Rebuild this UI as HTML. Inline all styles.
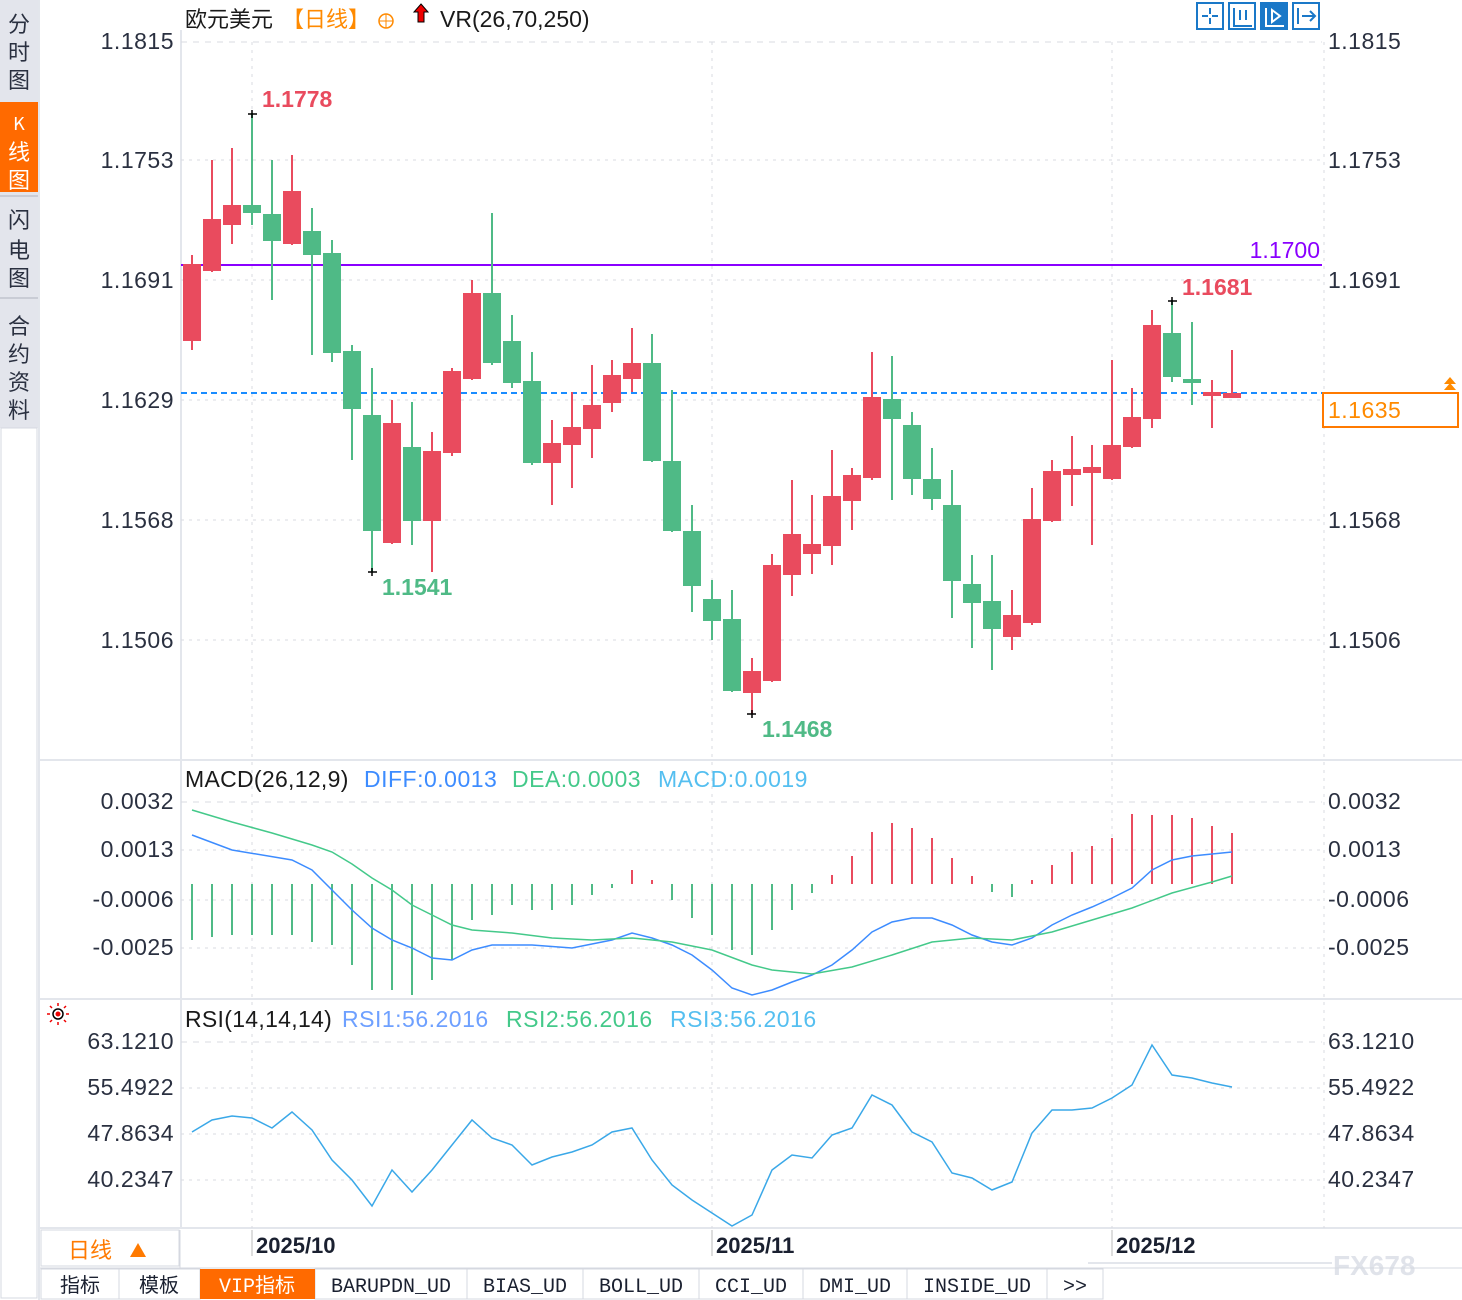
<!DOCTYPE html>
<html><head><meta charset="utf-8"><style>
html,body{margin:0;padding:0;background:#fff;width:1462px;height:1300px;overflow:hidden}
svg{display:block;font-family:"Liberation Sans","Noto Sans CJK SC",sans-serif}
</style></head><body>
<svg width="1462" height="1300" xmlns="http://www.w3.org/2000/svg">
<!-- sidebar -->
<rect x="0" y="0" width="38" height="428" fill="#e3e5ec"/>
<rect x="0" y="102" width="38" height="90" fill="#ff6a00"/>
<line x1="0" y1="196" x2="38" y2="196" stroke="#c9ccd5" stroke-width="2"/>
<line x1="0" y1="298" x2="38" y2="298" stroke="#c9ccd5" stroke-width="2"/>
<rect x="1" y="428" width="36" height="870" fill="#fff" stroke="#d5d8e0"/>
<g font-family="Noto Sans CJK SC,sans-serif" font-size="22" fill="#2a3040" text-anchor="middle">
<text x="19" y="32">分</text><text x="19" y="60">时</text><text x="19" y="88">图</text>
<text x="19" y="130" fill="#fff" font-size="18">K</text><text x="19" y="160" fill="#fff">线</text><text x="19" y="188" fill="#fff">图</text>
<text x="19" y="228">闪</text><text x="19" y="258">电</text><text x="19" y="286">图</text>
<text x="19" y="334">合</text><text x="19" y="362">约</text><text x="19" y="390">资</text><text x="19" y="418">料</text>
</g>
<!-- frame lines -->
<line x1="181" y1="30" x2="181" y2="1228" stroke="#e3e6ec" stroke-width="2"/>
<line x1="40" y1="760" x2="1462" y2="760" stroke="#e3e6ec" stroke-width="2"/>
<line x1="40" y1="999" x2="1462" y2="999" stroke="#e3e6ec" stroke-width="2"/>
<line x1="40" y1="1228" x2="1462" y2="1228" stroke="#e3e6ec" stroke-width="2"/>
<line x1="39" y1="0" x2="39" y2="1300" stroke="#e3e6ec" stroke-width="2"/>
<!-- grid -->
<g stroke="#d8dbe2" stroke-dasharray="3,5" stroke-width="1">
<line x1="181" y1="42" x2="1322" y2="42" stroke-dasharray="6,6"/>
<line x1="181" y1="160" x2="1322" y2="160"/><line x1="181" y1="280" x2="1322" y2="280"/>
<line x1="181" y1="400" x2="1322" y2="400"/><line x1="181" y1="520" x2="1322" y2="520"/>
<line x1="181" y1="640" x2="1322" y2="640"/>
<line x1="181" y1="802" x2="1322" y2="802" stroke-dasharray="6,6"/><line x1="181" y1="850" x2="1322" y2="850"/>
<line x1="181" y1="900" x2="1322" y2="900"/><line x1="181" y1="948" x2="1322" y2="948"/>
<line x1="181" y1="1042" x2="1322" y2="1042" stroke-dasharray="6,6"/><line x1="181" y1="1088" x2="1322" y2="1088"/>
<line x1="181" y1="1134" x2="1322" y2="1134"/><line x1="181" y1="1180" x2="1322" y2="1180"/>
<line x1="252" y1="42" x2="252" y2="1228"/><line x1="712" y1="42" x2="712" y2="1228"/><line x1="1112" y1="42" x2="1112" y2="1228"/>
<line x1="1324" y1="42" x2="1324" y2="1228"/>
</g>
<!-- axis labels -->
<g font-size="23" fill="#2a3040" letter-spacing="0.5">
<g text-anchor="end">
<text x="174" y="49">1.1815</text><text x="174" y="168">1.1753</text><text x="174" y="288">1.1691</text>
<text x="174" y="408">1.1629</text><text x="174" y="528">1.1568</text><text x="174" y="648">1.1506</text>
<text x="174" y="809">0.0032</text><text x="174" y="857">0.0013</text><text x="174" y="907">-0.0006</text><text x="174" y="955">-0.0025</text>
<text x="174" y="1049">63.1210</text><text x="174" y="1095">55.4922</text><text x="174" y="1141">47.8634</text><text x="174" y="1187">40.2347</text>
</g>
<text x="1328" y="49">1.1815</text><text x="1328" y="168">1.1753</text><text x="1328" y="288">1.1691</text>
<text x="1328" y="528">1.1568</text><text x="1328" y="648">1.1506</text>
<text x="1328" y="809">0.0032</text><text x="1328" y="857">0.0013</text><text x="1328" y="907">-0.0006</text><text x="1328" y="955">-0.0025</text>
<text x="1328" y="1049">63.1210</text><text x="1328" y="1095">55.4922</text><text x="1328" y="1141">47.8634</text><text x="1328" y="1187">40.2347</text>
</g>
<!-- title -->
<text x="185" y="27" font-size="22" fill="#1a1a1a" font-family="Noto Sans CJK SC,sans-serif">欧元美元</text>
<text x="282" y="27" font-size="22" fill="#ff8a00" font-family="Noto Sans CJK SC,sans-serif">【日线】</text>
<circle cx="386" cy="21" r="7" fill="none" stroke="#ff8a00" stroke-width="1.5"/><line x1="379" y1="21" x2="393" y2="21" stroke="#ff8a00"/><line x1="386" y1="14" x2="386" y2="28" stroke="#ff8a00"/>
<path d="M421 4 L428 12 L424 12 L424 22 L418 22 L418 12 L414 12 Z" fill="#e00" stroke="#000" stroke-width="1"/>
<text x="440" y="27" font-size="23" fill="#1a1a1a">VR(26,70,250)</text>
<!-- toolbar icons -->
<g fill="none" stroke="#1a78c8" stroke-width="2">
<rect x="1197" y="3" width="26" height="26"/><rect x="1229" y="3" width="26" height="26"/>
<rect x="1261" y="3" width="26" height="26" fill="#1a78c8"/><rect x="1293" y="3" width="26" height="26"/>
<path d="M1210 8v6M1210 18v6M1202 16h6M1212 16h6"/>
<path d="M1234 8v18h18M1240 10v10M1246 10v10"/>
<path d="M1266 8v18h18M1272 10l8 6-8 6z" stroke="#fff"/>
<path d="M1298 8v16M1302 16h12M1310 11l5 5-5 5"/>
</g>
<!-- 1.1700 line -->
<line x1="181" y1="265" x2="1322" y2="265" stroke="#8a00ff" stroke-width="2"/>
<text x="1320" y="258" font-size="23" fill="#8a00ff" text-anchor="end">1.1700</text>
<!-- current price -->
<line x1="181" y1="393" x2="1322" y2="393" stroke="#1a8cff" stroke-width="2" stroke-dasharray="6,4"/>
<rect x="1323" y="393" width="135" height="34" fill="#fff" stroke="#ff7a00" stroke-width="2"/>
<text x="1328" y="418" font-size="23" fill="#ff8a00" letter-spacing="0.5">1.1635</text>
<path d="M1450 377 l6 7h-12z M1450 383 l6 7h-12z" fill="#ff8a00"/>
<!-- candles -->
<g stroke-width="2">
<g stroke="#e94b5e" fill="#e94b5e">
<line x1="192" y1="255" x2="192" y2="350"/><rect x="184" y="265" width="16" height="75"/>
<line x1="212" y1="160" x2="212" y2="272"/><rect x="204" y="220" width="16" height="50"/>
<line x1="232" y1="148" x2="232" y2="244"/><rect x="224" y="206" width="16" height="18"/>
<line x1="292" y1="155" x2="292" y2="245"/><rect x="284" y="192" width="16" height="51"/>
<line x1="392" y1="400" x2="392" y2="544"/><rect x="384" y="424" width="16" height="118"/>
<line x1="432" y1="432" x2="432" y2="572"/><rect x="424" y="452" width="16" height="68"/>
<line x1="452" y1="368" x2="452" y2="456"/><rect x="444" y="372" width="16" height="80"/>
<line x1="472" y1="280" x2="472" y2="380"/><rect x="464" y="294" width="16" height="84"/>
<line x1="552" y1="420" x2="552" y2="505"/><rect x="544" y="444" width="16" height="18"/>
<line x1="572" y1="392" x2="572" y2="488"/><rect x="564" y="428" width="16" height="16"/>
<line x1="592" y1="365" x2="592" y2="458"/><rect x="584" y="406" width="16" height="22"/>
<line x1="612" y1="360" x2="612" y2="412"/><rect x="604" y="376" width="16" height="26"/>
<line x1="632" y1="328" x2="632" y2="392"/><rect x="624" y="364" width="16" height="14"/>
<line x1="752" y1="658" x2="752" y2="714"/><rect x="744" y="672" width="16" height="20"/>
<line x1="772" y1="554" x2="772" y2="682"/><rect x="764" y="566" width="16" height="114"/>
<line x1="792" y1="480" x2="792" y2="596"/><rect x="784" y="535" width="16" height="39"/>
<line x1="812" y1="495" x2="812" y2="574"/><rect x="804" y="545" width="16" height="8"/>
<line x1="832" y1="450" x2="832" y2="565"/><rect x="824" y="497" width="16" height="48"/>
<line x1="852" y1="468" x2="852" y2="530"/><rect x="844" y="476" width="16" height="24"/>
<line x1="872" y1="352" x2="872" y2="480"/><rect x="864" y="398" width="16" height="79"/>
<line x1="1012" y1="590" x2="1012" y2="650"/><rect x="1004" y="616" width="16" height="20"/>
<line x1="1032" y1="488" x2="1032" y2="625"/><rect x="1024" y="520" width="16" height="102"/>
<line x1="1052" y1="460" x2="1052" y2="522"/><rect x="1044" y="472" width="16" height="48"/>
<line x1="1072" y1="436" x2="1072" y2="506"/><rect x="1064" y="470" width="16" height="4"/>
<line x1="1092" y1="445" x2="1092" y2="545"/><rect x="1084" y="468" width="16" height="4"/>
<line x1="1112" y1="360" x2="1112" y2="480"/><rect x="1104" y="446" width="16" height="32"/>
<line x1="1132" y1="388" x2="1132" y2="448"/><rect x="1124" y="418" width="16" height="28"/>
<line x1="1152" y1="310" x2="1152" y2="428"/><rect x="1144" y="326" width="16" height="92"/>
<line x1="1212" y1="380" x2="1212" y2="428"/><rect x="1204" y="393" width="16" height="2"/>
<line x1="1232" y1="350" x2="1232" y2="398"/><rect x="1224" y="394" width="16" height="3"/>
</g>
<g stroke="#4fba86" fill="#4fba86">
<line x1="252" y1="113" x2="252" y2="225"/><rect x="244" y="206" width="16" height="6"/>
<line x1="272" y1="160" x2="272" y2="300"/><rect x="264" y="215" width="16" height="25"/>
<line x1="312" y1="208" x2="312" y2="355"/><rect x="304" y="232" width="16" height="22"/>
<line x1="332" y1="240" x2="332" y2="362"/><rect x="324" y="254" width="16" height="98"/>
<line x1="352" y1="345" x2="352" y2="460"/><rect x="344" y="352" width="16" height="56"/>
<line x1="372" y1="368" x2="372" y2="572"/><rect x="364" y="416" width="16" height="114"/>
<line x1="412" y1="402" x2="412" y2="545"/><rect x="404" y="448" width="16" height="72"/>
<line x1="492" y1="213" x2="492" y2="365"/><rect x="484" y="294" width="16" height="68"/>
<line x1="512" y1="315" x2="512" y2="388"/><rect x="504" y="342" width="16" height="40"/>
<line x1="532" y1="352" x2="532" y2="465"/><rect x="524" y="382" width="16" height="80"/>
<line x1="652" y1="334" x2="652" y2="462"/><rect x="644" y="364" width="16" height="96"/>
<line x1="672" y1="390" x2="672" y2="532"/><rect x="664" y="462" width="16" height="68"/>
<line x1="692" y1="505" x2="692" y2="612"/><rect x="684" y="532" width="16" height="53"/>
<line x1="712" y1="580" x2="712" y2="640"/><rect x="704" y="600" width="16" height="20"/>
<line x1="732" y1="590" x2="732" y2="692"/><rect x="724" y="620" width="16" height="70"/>
<line x1="892" y1="356" x2="892" y2="500"/><rect x="884" y="400" width="16" height="18"/>
<line x1="912" y1="412" x2="912" y2="495"/><rect x="904" y="426" width="16" height="52"/>
<line x1="932" y1="448" x2="932" y2="510"/><rect x="924" y="480" width="16" height="18"/>
<line x1="952" y1="470" x2="952" y2="618"/><rect x="944" y="506" width="16" height="74"/>
<line x1="972" y1="555" x2="972" y2="648"/><rect x="964" y="585" width="16" height="17"/>
<line x1="992" y1="555" x2="992" y2="670"/><rect x="984" y="602" width="16" height="26"/>
<line x1="1172" y1="300" x2="1172" y2="382"/><rect x="1164" y="334" width="16" height="42"/>
<line x1="1192" y1="322" x2="1192" y2="405"/><rect x="1184" y="380" width="16" height="2"/>
</g>
</g>
<!-- markers -->
<g stroke="#000" stroke-width="1.5">
<path d="M248 114h9M252 110v8"/><path d="M368 572h9M372 568v8"/><path d="M747 714h9M752 710v8"/><path d="M1168 301h9M1172 297v8"/>
</g>
<g font-size="23" font-weight="bold">
<text x="262" y="107" fill="#e94b5e">1.1778</text>
<text x="382" y="595" fill="#4fba86">1.1541</text>
<text x="762" y="737" fill="#4fba86">1.1468</text>
<text x="1182" y="295" fill="#e94b5e">1.1681</text>
</g>
<!-- MACD -->
<g font-size="23"><text x="185" y="787" fill="#1a1a1a" letter-spacing="0.3">MACD(26,12,9)</text>
<text x="364" y="787" fill="#3d8cff" letter-spacing="0.5">DIFF:0.0013</text><text x="512" y="787" fill="#44c98a" letter-spacing="0.5">DEA:0.0003</text><text x="658" y="787" fill="#55bff0" letter-spacing="0.5">MACD:0.0019</text></g>
<g stroke-width="2">
<path stroke="#4fba86" d="M192 884V940M212 884V937M232 884V935M252 884V935M272 884V935M292 884V935M312 884V942M332 884V945M352 884V965M372 884V990M392 884V990M412 884V995M432 884V980M452 884V960M472 884V920M492 884V915M512 884V905M532 884V910M552 884V910M572 884V905M592 884V895M612 884V888M672 884V900M692 884V918M712 884V935M732 884V950M752 884V955M772 884V930M792 884V910M812 884V893M992 884V892M1012 884V897"/>
<path stroke="#e94b5e" d="M632 884V870M652 884V880M832 884V875M852 884V856M872 884V832M892 884V823M912 884V828M932 884V838M952 884V858M972 884V876M1032 884V880M1052 884V865M1072 884V852M1092 884V846M1112 884V838M1132 884V814M1152 884V815M1172 884V815M1192 884V818M1212 884V826M1232 884V833"/>
</g>
<polyline fill="none" stroke="#3d8cff" stroke-width="1.5" points="192,835 232,850 292,860 312,870 332,890 352,910 372,928 392,940 412,948 432,958 452,960 472,950 492,945 532,945 572,948 612,940 632,933 652,938 672,945 692,955 712,970 732,988 752,995 772,990 792,982 812,975 832,965 852,950 872,932 892,922 912,918 932,918 952,925 972,935 992,942 1012,945 1032,938 1052,925 1072,915 1092,907 1112,898 1132,888 1152,870 1172,860 1192,856 1232,852"/>
<polyline fill="none" stroke="#44c98a" stroke-width="1.5" points="192,810 232,822 272,833 312,845 332,852 352,864 372,878 392,890 412,905 432,915 452,925 472,930 512,933 552,938 592,940 632,938 672,942 712,950 752,965 772,970 812,974 852,967 892,955 932,942 972,938 1012,940 1052,932 1092,920 1132,908 1172,893 1212,882 1232,876"/>
<!-- RSI -->
<g stroke="#e00" stroke-width="1.5"><circle cx="58" cy="1014" r="5" fill="none" stroke="#000"/><circle cx="58" cy="1014" r="2.5" fill="#e00" stroke="none"/>
<path d="M58 1003v3M58 1022v3M47 1014h3M66 1014h3M50 1006l2 2M64 1020l2 2M66 1006l-2 2M50 1022l2-2"/></g>
<g font-size="23"><text x="185" y="1027" fill="#1a1a1a" letter-spacing="0.3">RSI(14,14,14)</text>
<text x="342" y="1027" fill="#6ea0ff" letter-spacing="0.5">RSI1:56.2016</text><text x="506" y="1027" fill="#44c98a" letter-spacing="0.5">RSI2:56.2016</text><text x="670" y="1027" fill="#55bff0" letter-spacing="0.5">RSI3:56.2016</text></g>
<polyline fill="none" stroke="#3aa8e8" stroke-width="1.5" points="192,1132 212,1120 232,1116 252,1118 272,1128 292,1112 312,1130 332,1160 352,1180 372,1206 392,1170 412,1192 432,1170 452,1145 472,1120 492,1138 512,1145 532,1165 552,1157 572,1152 592,1145 612,1132 632,1128 652,1160 672,1185 692,1200 712,1213 732,1226 752,1215 772,1170 792,1155 812,1158 832,1135 852,1128 872,1095 892,1105 912,1132 932,1142 952,1173 972,1178 992,1190 1012,1182 1032,1133 1052,1110 1072,1110 1092,1108 1112,1098 1132,1085 1152,1045 1172,1075 1192,1078 1212,1083 1232,1087"/>
<!-- date axis -->
<rect x="41" y="1230" width="138" height="36" fill="#fff" stroke="#d5d8e0"/>
<text x="68" y="1258" font-size="22" fill="#ff7a00" font-family="Noto Sans CJK SC,sans-serif">日线</text>
<path d="M130 1257l8-14 8 14z" fill="#ff7a00"/>
<line x1="180" y1="1230" x2="180" y2="1268" stroke="#d5d8e0"/>
<g stroke="#bbb"><line x1="252" y1="1230" x2="252" y2="1256"/><line x1="712" y1="1230" x2="712" y2="1256"/><line x1="1112" y1="1230" x2="1112" y2="1256"/></g>
<g font-size="22" font-weight="bold" fill="#1a2030"><text x="256" y="1253">2025/10</text><text x="716" y="1253">2025/11</text><text x="1116" y="1253">2025/12</text></g>
<line x1="1088" y1="1263" x2="1332" y2="1263" stroke="#e3e6ec" stroke-width="2"/>
<text x="1333" y="1275" font-size="28" fill="#e0e3ea" font-weight="bold">FX678</text>
<!-- tabs -->
<line x1="40" y1="1268" x2="1462" y2="1268" stroke="#d5d8e0"/>
<g stroke="#d5d8e0" fill="#fff">
<rect x="41" y="1269" width="78" height="30"/><rect x="119" y="1269" width="81" height="30"/>
<rect x="315" y="1269" width="152" height="30"/><rect x="467" y="1269" width="116" height="30"/>
<rect x="583" y="1269" width="116" height="30"/><rect x="699" y="1269" width="104" height="30"/>
<rect x="803" y="1269" width="104" height="30"/><rect x="907" y="1269" width="140" height="30"/>
<rect x="1047" y="1269" width="56" height="30"/></g>
<rect x="200" y="1269" width="115" height="30" fill="#ff6a00"/>
<g font-size="20" fill="#1a2030" font-family="Liberation Mono,Noto Sans CJK SC,monospace" text-anchor="middle">
<text x="80" y="1292">指标</text><text x="159" y="1292">模板</text><text x="257" y="1292" fill="#fff">VIP指标</text>
<text x="391" y="1292">BARUPDN_UD</text><text x="525" y="1292">BIAS_UD</text><text x="641" y="1292">BOLL_UD</text>
<text x="751" y="1292">CCI_UD</text><text x="855" y="1292">DMI_UD</text><text x="977" y="1292">INSIDE_UD</text><text x="1075" y="1292">&gt;&gt;</text>
</g>
</svg>
</body></html>
